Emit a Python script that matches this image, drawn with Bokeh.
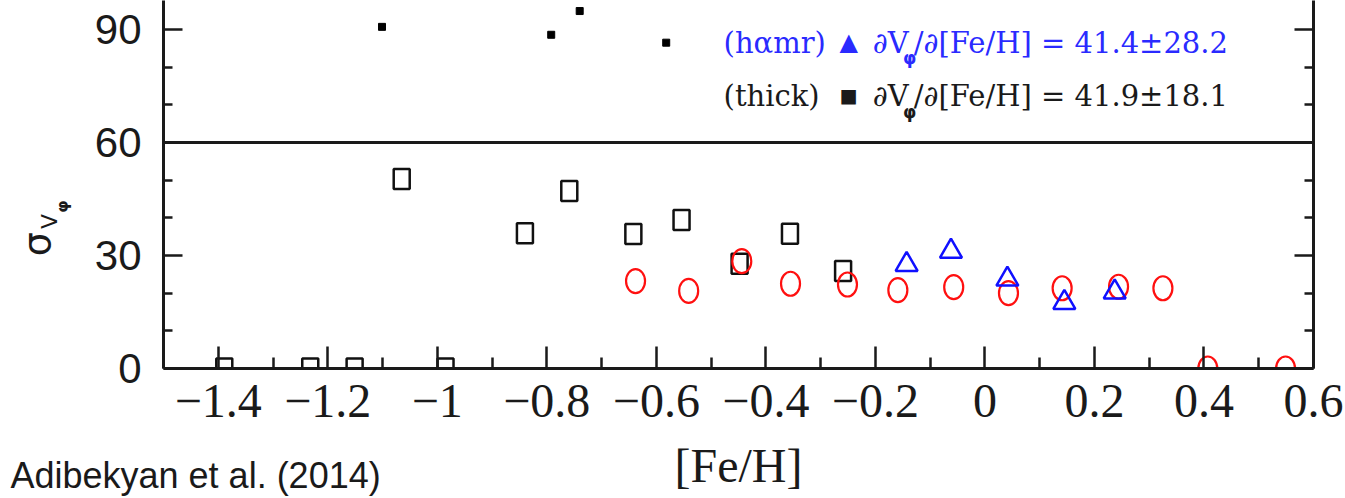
import math
from bokeh.plotting import figure
from bokeh.models import Range1d, LinearAxis, FixedTicker, Span, Label
from bokeh.core.properties import value
from bokeh.embed import file_html
from bokeh.resources import INLINE

# ---------------- data ----------------
thick_feh = [-1.389, -1.232, -1.151, -0.985, -1.065, -0.840, -0.759, -0.642, -0.554, -0.448, -0.356, -0.259]
thick_sig = [0.0, 0.0, 0.0, 0.0, 50.3, 35.9, 47.1, 35.7, 39.4, 27.8, 35.8, 25.9]

thin_feh = [-0.638, -0.541, -0.444, -0.355, -0.251, -0.159, -0.057, 0.043, 0.141, 0.244, 0.325, 0.407, 0.549]
thin_sig = [23.2, 20.6, 28.5, 22.5, 22.3, 20.8, 21.6, 20.0, 21.3, 21.7, 21.3, 0.0, 0.0]

hamr_feh = [-0.143, -0.062, 0.041, 0.145, 0.237]
hamr_sig = [27.6, 31.1, 23.7, 17.5, 20.3]

upper_feh = [-1.101, -0.792, -0.740, -0.582]
upper_val = [90.7, 88.6, 94.9, 86.5]

x_ticks = [-1.4, -1.2, -1.0, -0.8, -0.6, -0.4, -0.2, 0.0, 0.2, 0.4, 0.6]
x_tick_labels = ["\u22121.4", "\u22121.2", "\u22121", "\u22120.8", "\u22120.6", "\u22120.4", "\u22120.2", "0", "0.2", "0.4", "0.6"]
x_minor = [-1.5, -1.3, -1.1, -0.9, -0.7, -0.5, -0.3, -0.1, 0.1, 0.3, 0.5]
y_ticks = [0, 30, 60, 90]
y_tick_labels = ["0", "30", "60", "90"]
y_minor = [10, 20, 40, 50, 70, 80]

# legend pieces: name, symbol, "dV", subscript, rest
legend_hamr = ["(h\u03b1mr)", "\u25b2", "\u2202V", "\u03c6", "/\u2202[Fe/H] = 41.4\u00b128.2"]
legend_thick = ["(thick)", "\u25a0", "\u2202V", "\u03c6", "/\u2202[Fe/H] = 41.9\u00b118.1"]

# ---------------- figure ----------------
p = figure(width=1345, height=498,
           x_range=Range1d(-1.5, 0.6), y_range=Range1d(0, 97.7),
           output_backend="svg", toolbar_location=None,
           min_border_left=163, min_border_right=32,
           min_border_top=0, min_border_bottom=130)
p.outline_line_color = None
p.grid.visible = False
p.background_fill_color = "white"
p.border_fill_color = "white"

AX = "#1a1a1a"
xa = p.xaxis[0]
xa.ticker = FixedTicker(ticks=x_ticks, minor_ticks=x_minor)
xa.major_label_overrides = {t: l for t, l in zip(x_ticks, x_tick_labels)}
xa.axis_label = "[Fe/H]"
xa.axis_label_text_font = "Liberation Serif"
xa.axis_label_text_font_size = "48px"
xa.axis_label_text_font_style = "normal"
xa.axis_label_text_color = AX
xa.axis_label_standoff = 19
xa.major_label_text_font = "Liberation Serif"
xa.major_label_text_font_size = "48px"
xa.major_label_text_color = AX
xa.major_label_standoff = 16
ya = p.yaxis[0]
ya.ticker = FixedTicker(ticks=y_ticks, minor_ticks=y_minor)
ya.major_label_overrides = {t: l for t, l in zip(y_ticks, y_tick_labels)}
ya.major_label_text_font = "Liberation Sans"
ya.major_label_text_font_size = "42px"
ya.major_label_text_color = AX
ya.major_label_standoff = 22

ra = LinearAxis(ticker=FixedTicker(ticks=y_ticks, minor_ticks=y_minor),
                major_label_text_color=None, major_label_text_font_size="1px",
                major_label_standoff=0)
p.add_layout(ra, "right")

for ax, maj, mnr in ((xa, 22, 11), (ya, 19, 9), (ra, 19, 9)):
    ax.axis_line_width = 3
    ax.axis_line_color = AX
    ax.major_tick_in = maj
    ax.major_tick_out = 0
    ax.minor_tick_in = mnr
    ax.minor_tick_out = 0
    ax.major_tick_line_width = 2.5
    ax.minor_tick_line_width = 2.5
    ax.major_tick_line_color = AX
    ax.minor_tick_line_color = AX

# panel boundary line
p.add_layout(Span(location=60, dimension="width", line_color=AX, line_width=3))

# ---------------- marks ----------------
p.rect(x=thick_feh, y=thick_sig, width=16, height=20, width_units="screen", height_units="screen",
       fill_color=None, line_color="#111111", line_width=2.5)
p.ellipse(x=thin_feh, y=thin_sig, width=19, height=24, width_units="screen", height_units="screen",
          fill_color=None, line_color="#ff1010", line_width=2.2)
p.scatter(x=hamr_feh, y=hamr_sig, marker="triangle", size=22,
          fill_color=None, line_color="#1010ff", line_width=2.5)
p.scatter(x=upper_feh, y=upper_val, marker="square", size=7,
          fill_color="black", line_color="black")

# ---------------- texts ----------------
def px2x(px):
    return -1.5 + (px - 163) / 547.5

def px2y(py):
    return (368 - py) / 3.79

LEG_FONT = "DejaVu Serif"

def lab(px, py, txt, color, font, size, align="left", style="normal"):
    p.add_layout(Label(x=px2x(px), y=px2y(py), text=txt, text_font=font,
                       text_font_size=size, text_color=color, text_font_style=style,
                       text_align=align, text_baseline="middle"))

for parts, color, yc, sym_size in ((legend_hamr, "#2a2aff", 40, "24px"),
                                   (legend_thick, "#1a1a1a", 94, "19px")):
    lab(723, yc, parts[0], color, LEG_FONT, "29px")
    lab(848, yc - 1, parts[1], color, "DejaVu Sans", sym_size, align="center")
    lab(872, yc, parts[2], color, LEG_FONT, "29px")
    lab(909, yc + 16, parts[3], color, "DejaVu Sans", "17px", align="center", style="bold")
    lab(913, yc, parts[4], color, LEG_FONT, "29px")

# texts outside the frame: unclipped text glyphs at overlay level
def outside_text(px, py, txt, font, size, angle=0.0, align="center", style="normal"):
    p.text(x=[px2x(px)], y=[px2y(py)], text=[txt], angle=angle,
           text_font=value(font), text_font_size=value(size), text_font_style=style,
           text_color=AX, text_align=align, text_baseline="middle", level="overlay")

outside_text(37, 243, "\u03c3", "DejaVu Sans", "38px", angle=math.pi / 2)
outside_text(49, 220, "V", "DejaVu Sans", "22px", angle=math.pi / 2)
outside_text(62, 205, "\u03c6", "DejaVu Sans", "16px", angle=math.pi / 2, style="bold")
outside_text(10, 476, "Adibekyan et al. (2014)", "Liberation Sans", "36px", align="left")

open("out.html", "w").write(file_html(p, INLINE))
